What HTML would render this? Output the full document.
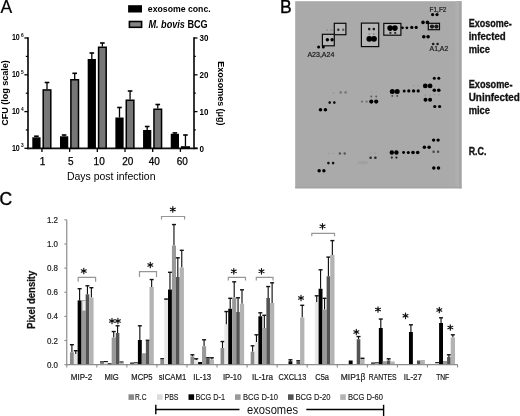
<!DOCTYPE html>
<html><head><meta charset="utf-8"><title>Figure</title>
<style>
html,body{margin:0;padding:0;background:#fff;}
body{width:520px;height:416px;overflow:hidden;font-family:"Liberation Sans", sans-serif;}
svg{display:block;will-change:transform;filter:blur(0.3px);}
svg text{font-family:"Liberation Sans", sans-serif;}
</style></head><body>
<svg width="520" height="416" viewBox="0 0 520 416">
<defs><filter id="bl" x="-50%" y="-50%" width="200%" height="200%"><feGaussianBlur stdDeviation="0.5"/></filter></defs>
<rect x="0" y="0" width="520" height="416" fill="#fff"/>
<text x="0.4" y="12.5" font-size="17.5" font-weight="normal" font-style="normal" text-anchor="start" fill="#000" stroke="#000" stroke-width="0.2">A</text>
<rect x="128.10" y="5.20" width="13.90" height="7.30" fill="#000" />
<text x="147.8" y="11.9" font-size="9.8" font-weight="bold" font-style="normal" text-anchor="start" fill="#000" textLength="62.9" lengthAdjust="spacingAndGlyphs" >exosome conc.</text>
<rect x="129.40" y="21.50" width="12.20" height="5.80" fill="#858585" stroke="#000" stroke-width="1.6" />
<text x="148.4" y="27.7" font-size="10" font-weight="bold" textLength="59.3" lengthAdjust="spacingAndGlyphs"><tspan font-style="italic">M. bovis</tspan> BCG</text>
<line x1="28.0" y1="37.2" x2="28.0" y2="149.20000000000002" stroke="#111" stroke-width="1.7" />
<line x1="194.0" y1="37.2" x2="194.0" y2="149.20000000000002" stroke="#111" stroke-width="1.7" />
<line x1="27.1" y1="148.3" x2="197.6" y2="148.3" stroke="#111" stroke-width="1.7" />
<line x1="24.4" y1="38.0" x2="28.0" y2="38.0" stroke="#000" stroke-width="1.3" />
<line x1="194.0" y1="38.0" x2="197.5" y2="38.0" stroke="#000" stroke-width="1.3" />
<line x1="24.4" y1="74.8" x2="28.0" y2="74.8" stroke="#000" stroke-width="1.3" />
<line x1="194.0" y1="74.8" x2="197.5" y2="74.8" stroke="#000" stroke-width="1.3" />
<line x1="24.4" y1="111.6" x2="28.0" y2="111.6" stroke="#000" stroke-width="1.3" />
<line x1="194.0" y1="111.6" x2="197.5" y2="111.6" stroke="#000" stroke-width="1.3" />
<line x1="24.4" y1="148.3" x2="28.0" y2="148.3" stroke="#000" stroke-width="1.3" />
<line x1="194.0" y1="148.3" x2="197.5" y2="148.3" stroke="#000" stroke-width="1.3" />
<line x1="25.8" y1="56.4" x2="28.0" y2="56.4" stroke="#000" stroke-width="1.2" />
<line x1="194.0" y1="56.4" x2="195.8" y2="56.4" stroke="#000" stroke-width="1.2" />
<line x1="25.8" y1="93.19999999999999" x2="28.0" y2="93.19999999999999" stroke="#000" stroke-width="1.2" />
<line x1="194.0" y1="93.19999999999999" x2="195.8" y2="93.19999999999999" stroke="#000" stroke-width="1.2" />
<line x1="25.8" y1="129.95" x2="28.0" y2="129.95" stroke="#000" stroke-width="1.2" />
<line x1="194.0" y1="129.95" x2="195.8" y2="129.95" stroke="#000" stroke-width="1.2" />
<text x="19.8" y="40.4" font-size="8.7" font-weight="bold" font-style="normal" text-anchor="end" fill="#000" textLength="7.9" lengthAdjust="spacingAndGlyphs" >10</text>
<text x="20.9" y="37.1" font-size="4.8" font-weight="bold" font-style="normal" text-anchor="start" fill="#000" >6</text>
<text x="19.8" y="77.2" font-size="8.7" font-weight="bold" font-style="normal" text-anchor="end" fill="#000" textLength="7.9" lengthAdjust="spacingAndGlyphs" >10</text>
<text x="20.9" y="73.89999999999999" font-size="4.8" font-weight="bold" font-style="normal" text-anchor="start" fill="#000" >5</text>
<text x="19.8" y="114.0" font-size="8.7" font-weight="bold" font-style="normal" text-anchor="end" fill="#000" textLength="7.9" lengthAdjust="spacingAndGlyphs" >10</text>
<text x="20.9" y="110.69999999999999" font-size="4.8" font-weight="bold" font-style="normal" text-anchor="start" fill="#000" >4</text>
<text x="19.8" y="150.70000000000002" font-size="8.7" font-weight="bold" font-style="normal" text-anchor="end" fill="#000" textLength="7.9" lengthAdjust="spacingAndGlyphs" >10</text>
<text x="20.9" y="147.4" font-size="4.8" font-weight="bold" font-style="normal" text-anchor="start" fill="#000" >3</text>
<text x="199.5" y="41.3" font-size="9.0" font-weight="bold" font-style="normal" text-anchor="start" fill="#000" textLength="8.9" lengthAdjust="spacingAndGlyphs" >30</text>
<text x="199.5" y="78.1" font-size="9.0" font-weight="bold" font-style="normal" text-anchor="start" fill="#000" textLength="8.9" lengthAdjust="spacingAndGlyphs" >20</text>
<text x="199.5" y="114.89999999999999" font-size="9.0" font-weight="bold" font-style="normal" text-anchor="start" fill="#000" textLength="8.9" lengthAdjust="spacingAndGlyphs" >10</text>
<text x="199.5" y="151.60000000000002" font-size="9.0" font-weight="bold" font-style="normal" text-anchor="start" fill="#000" textLength="4.5" lengthAdjust="spacingAndGlyphs" >0</text>
<line x1="41.95" y1="148.3" x2="41.95" y2="151.9" stroke="#000" stroke-width="1.3" />
<text x="42.45" y="164.6" font-size="10" font-weight="normal" font-style="normal" text-anchor="middle" fill="#000" stroke="#000" stroke-width="0.25">1</text>
<line x1="69.64" y1="148.3" x2="69.64" y2="151.9" stroke="#000" stroke-width="1.3" />
<text x="70.75" y="164.6" font-size="10" font-weight="normal" font-style="normal" text-anchor="middle" fill="#000" stroke="#000" stroke-width="0.25">5</text>
<line x1="97.33000000000001" y1="148.3" x2="97.33000000000001" y2="151.9" stroke="#000" stroke-width="1.3" />
<text x="99.15" y="164.6" font-size="10" font-weight="normal" font-style="normal" text-anchor="middle" fill="#000" stroke="#000" stroke-width="0.25">10</text>
<line x1="125.02000000000001" y1="148.3" x2="125.02000000000001" y2="151.9" stroke="#000" stroke-width="1.3" />
<text x="127.7" y="164.6" font-size="10" font-weight="normal" font-style="normal" text-anchor="middle" fill="#000" stroke="#000" stroke-width="0.25">20</text>
<line x1="152.71" y1="148.3" x2="152.71" y2="151.9" stroke="#000" stroke-width="1.3" />
<text x="154.3" y="164.6" font-size="10" font-weight="normal" font-style="normal" text-anchor="middle" fill="#000" stroke="#000" stroke-width="0.25">40</text>
<line x1="180.40000000000003" y1="148.3" x2="180.40000000000003" y2="151.9" stroke="#000" stroke-width="1.3" />
<text x="182.3" y="164.6" font-size="10" font-weight="normal" font-style="normal" text-anchor="middle" fill="#000" stroke="#000" stroke-width="0.25">60</text>
<text x="66.9" y="179.8" font-size="10.9" font-weight="normal" font-style="normal" text-anchor="start" fill="#000" textLength="88.6" lengthAdjust="spacingAndGlyphs" >Days post infection</text>
<text transform="translate(8.0,93.0) rotate(-90)" x="0" y="0" font-size="8.6" font-weight="bold" text-anchor="middle" textLength="65.6" lengthAdjust="spacingAndGlyphs">CFU (log scale)</text>
<text transform="translate(217.9,93.4) rotate(90)" x="0" y="0" font-size="8.8" font-weight="bold" text-anchor="middle" textLength="64.3" lengthAdjust="spacingAndGlyphs">Exosomes (&#956;g)</text>
<line x1="36.425000000000004" y1="137.3" x2="36.425000000000004" y2="136.2" stroke="#000" stroke-width="1.3" />
<line x1="34.12500000000001" y1="136.2" x2="38.725" y2="136.2" stroke="#000" stroke-width="1.6" />
<line x1="47.0" y1="89.2" x2="47.0" y2="82.5" stroke="#000" stroke-width="1.3" />
<line x1="44.7" y1="82.5" x2="49.3" y2="82.5" stroke="#000" stroke-width="1.6" />
<rect x="32.30" y="137.30" width="8.25" height="11.00" fill="#000" />
<rect x="43.20" y="89.95" width="7.60" height="58.35" fill="#777777" stroke="#000" stroke-width="1.5" />
<line x1="64.115" y1="136.3" x2="64.115" y2="135.0" stroke="#000" stroke-width="1.3" />
<line x1="61.815" y1="135.0" x2="66.41499999999999" y2="135.0" stroke="#000" stroke-width="1.6" />
<line x1="74.69" y1="79.0" x2="74.69" y2="73.3" stroke="#000" stroke-width="1.3" />
<line x1="72.39" y1="73.3" x2="76.99" y2="73.3" stroke="#000" stroke-width="1.6" />
<rect x="59.99" y="136.30" width="8.25" height="12.00" fill="#000" />
<rect x="70.89" y="79.75" width="7.60" height="68.55" fill="#777777" stroke="#000" stroke-width="1.5" />
<line x1="91.805" y1="59.0" x2="91.805" y2="53.0" stroke="#000" stroke-width="1.3" />
<line x1="89.50500000000001" y1="53.0" x2="94.105" y2="53.0" stroke="#000" stroke-width="1.6" />
<line x1="102.38000000000001" y1="46.5" x2="102.38000000000001" y2="43.0" stroke="#000" stroke-width="1.3" />
<line x1="100.08000000000001" y1="43.0" x2="104.68" y2="43.0" stroke="#000" stroke-width="1.6" />
<rect x="87.68" y="59.00" width="8.25" height="89.30" fill="#000" />
<rect x="98.58" y="47.25" width="7.60" height="101.05" fill="#777777" stroke="#000" stroke-width="1.5" />
<line x1="119.495" y1="117.5" x2="119.495" y2="107.5" stroke="#000" stroke-width="1.3" />
<line x1="117.19500000000001" y1="107.5" x2="121.795" y2="107.5" stroke="#000" stroke-width="1.6" />
<line x1="130.07" y1="99.5" x2="130.07" y2="91.0" stroke="#000" stroke-width="1.3" />
<line x1="127.77" y1="91.0" x2="132.37" y2="91.0" stroke="#000" stroke-width="1.6" />
<rect x="115.37" y="117.50" width="8.25" height="30.80" fill="#000" />
<rect x="126.27" y="100.25" width="7.60" height="48.05" fill="#777777" stroke="#000" stroke-width="1.5" />
<line x1="147.185" y1="130.0" x2="147.185" y2="126.5" stroke="#000" stroke-width="1.3" />
<line x1="144.885" y1="126.5" x2="149.485" y2="126.5" stroke="#000" stroke-width="1.6" />
<line x1="157.76" y1="108.5" x2="157.76" y2="104.5" stroke="#000" stroke-width="1.3" />
<line x1="155.45999999999998" y1="104.5" x2="160.06" y2="104.5" stroke="#000" stroke-width="1.6" />
<rect x="143.06" y="130.00" width="8.25" height="18.30" fill="#000" />
<rect x="153.96" y="109.25" width="7.60" height="39.05" fill="#777777" stroke="#000" stroke-width="1.5" />
<line x1="174.87500000000003" y1="133.8" x2="174.87500000000003" y2="132.9" stroke="#000" stroke-width="1.3" />
<line x1="172.57500000000002" y1="132.9" x2="177.17500000000004" y2="132.9" stroke="#000" stroke-width="1.6" />
<line x1="185.45000000000005" y1="146.2" x2="185.45000000000005" y2="135.0" stroke="#000" stroke-width="1.3" />
<line x1="183.15000000000003" y1="135.0" x2="187.75000000000006" y2="135.0" stroke="#000" stroke-width="1.6" />
<rect x="170.75" y="133.80" width="8.25" height="14.50" fill="#000" />
<rect x="181.65" y="146.95" width="7.60" height="1.35" fill="#777777" stroke="#000" stroke-width="1.5" />
<text x="279.9" y="12.7" font-size="17.5" font-weight="normal" font-style="normal" text-anchor="start" fill="#000" stroke="#000" stroke-width="0.35">B</text>
<rect x="295.20" y="1.20" width="166.30" height="187.10" fill="#aaaaaa" />
<rect x="295.20" y="186.80" width="166.30" height="1.50" fill="#a2a2a2" />
<rect x="455.50" y="1.20" width="3.80" height="185.60" fill="#afafaf" />
<rect x="459.30" y="1.20" width="2.20" height="187.10" fill="#a4a4a4" />
<rect x="334.30" y="23.30" width="11.60" height="11.40" fill="#b6b6b6" stroke="#0a0a0a" stroke-width="1.2" />
<rect x="322.40" y="34.30" width="11.90" height="11.50" fill="#b6b6b6" stroke="#0a0a0a" stroke-width="1.2" />
<rect x="361.40" y="23.10" width="17.30" height="23.50" fill="#b6b6b6" stroke="#0a0a0a" stroke-width="1.2" />
<rect x="383.80" y="23.40" width="17.10" height="11.80" fill="#b6b6b6" stroke="#0a0a0a" stroke-width="1.2" />
<rect x="428.30" y="23.30" width="11.20" height="6.40" fill="#b6b6b6" stroke="#0a0a0a" stroke-width="1.2" />
<circle cx="318.6" cy="47.1" r="1.5" fill="#000" opacity="1.0" filter="url(#bl)"/>
<circle cx="323.3" cy="47.1" r="1.5" fill="#000" opacity="1.0" filter="url(#bl)"/>
<circle cx="327.4" cy="39.7" r="1.7" fill="#000" opacity="1.0" filter="url(#bl)"/>
<circle cx="332.09999999999997" cy="39.7" r="1.7" fill="#000" opacity="1.0" filter="url(#bl)"/>
<circle cx="338.3" cy="29.8" r="1.2" fill="#2a2a2a" opacity="1" filter="url(#bl)"/>
<circle cx="343.2" cy="29.8" r="1.2" fill="#5a5a5a" opacity="1" filter="url(#bl)"/>
<circle cx="327.0" cy="30.1" r="1.1" fill="#959595" opacity="1.0" filter="url(#bl)"/>
<circle cx="331.3" cy="30.1" r="1.1" fill="#959595" opacity="1.0" filter="url(#bl)"/>
<circle cx="369.2" cy="29.1" r="1.3" fill="#151515" opacity="1.0" filter="url(#bl)"/>
<circle cx="373.8" cy="29.1" r="1.3" fill="#151515" opacity="1.0" filter="url(#bl)"/>
<circle cx="369.2" cy="34.0" r="1.0" fill="#8f8f8f" opacity="1.0" filter="url(#bl)"/>
<circle cx="373.8" cy="34.0" r="1.0" fill="#8f8f8f" opacity="1.0" filter="url(#bl)"/>
<circle cx="369.3" cy="38.8" r="2.9" fill="#000" opacity="1.0" filter="url(#bl)"/>
<circle cx="374.0" cy="38.8" r="2.9" fill="#000" opacity="1.0" filter="url(#bl)"/>
<circle cx="390.1" cy="28.1" r="2.8" fill="#000" opacity="1.0" filter="url(#bl)"/>
<circle cx="394.90000000000003" cy="28.1" r="2.8" fill="#000" opacity="1.0" filter="url(#bl)"/>
<circle cx="390.4" cy="32.9" r="1.1" fill="#2a2a2a" opacity="1.0" filter="url(#bl)"/>
<circle cx="395.2" cy="32.9" r="1.1" fill="#2a2a2a" opacity="1.0" filter="url(#bl)"/>
<circle cx="411.8" cy="27.4" r="1.6" fill="#000" opacity="1.0" filter="url(#bl)"/>
<circle cx="416.2" cy="27.4" r="1.6" fill="#000" opacity="1.0" filter="url(#bl)"/>
<circle cx="402.4" cy="27.8" r="1.4" fill="#000" opacity="1" filter="url(#bl)"/>
<circle cx="406.9" cy="27.8" r="1.4" fill="#000" opacity="1" filter="url(#bl)"/>
<circle cx="423.0" cy="22.4" r="1.8" fill="#000" opacity="1.0" filter="url(#bl)"/>
<circle cx="427.4" cy="22.4" r="1.8" fill="#000" opacity="1.0" filter="url(#bl)"/>
<circle cx="432.0" cy="26.6" r="2.1" fill="#1a1a1a" opacity="1.0" filter="url(#bl)"/>
<circle cx="436.4" cy="26.6" r="2.1" fill="#1a1a1a" opacity="1.0" filter="url(#bl)"/>
<circle cx="432.6" cy="14.6" r="1.6" fill="#000" opacity="1.0" filter="url(#bl)"/>
<circle cx="437.0" cy="14.6" r="1.6" fill="#000" opacity="1.0" filter="url(#bl)"/>
<circle cx="423.8" cy="36.8" r="1.8" fill="#000" opacity="1.0" filter="url(#bl)"/>
<circle cx="428.1" cy="36.8" r="1.8" fill="#000" opacity="1.0" filter="url(#bl)"/>
<circle cx="433.2" cy="44.0" r="1.3" fill="#1a1a1a" opacity="1.0" filter="url(#bl)"/>
<circle cx="437.59999999999997" cy="44.0" r="1.3" fill="#1a1a1a" opacity="1.0" filter="url(#bl)"/>
<circle cx="340.75" cy="92.4" r="1.3" fill="#7a7a7a" opacity="1.0" filter="url(#bl)"/>
<circle cx="345.6" cy="92.4" r="1.3" fill="#7a7a7a" opacity="1.0" filter="url(#bl)"/>
<circle cx="333.5" cy="93.0" r="1.0" fill="#9a9a9a" opacity="1" filter="url(#bl)"/>
<circle cx="329.7" cy="102.6" r="1.3" fill="#0a0a0a" opacity="1.0" filter="url(#bl)"/>
<circle cx="334.3" cy="102.6" r="1.3" fill="#0a0a0a" opacity="1.0" filter="url(#bl)"/>
<circle cx="320.45" cy="109.7" r="1.8" fill="#000" opacity="1.0" filter="url(#bl)"/>
<circle cx="325.4" cy="109.7" r="1.8" fill="#000" opacity="1.0" filter="url(#bl)"/>
<circle cx="362.0" cy="101.6" r="1.2" fill="#777" opacity="1.0" filter="url(#bl)"/>
<circle cx="366.6" cy="101.6" r="1.2" fill="#777" opacity="1.0" filter="url(#bl)"/>
<circle cx="371.3" cy="101.6" r="2.1" fill="#000" opacity="1.0" filter="url(#bl)"/>
<circle cx="376.2" cy="101.6" r="2.1" fill="#000" opacity="1.0" filter="url(#bl)"/>
<circle cx="371.3" cy="96.5" r="0.9" fill="#555" opacity="1.0" filter="url(#bl)"/>
<circle cx="376.2" cy="96.5" r="0.9" fill="#555" opacity="1.0" filter="url(#bl)"/>
<circle cx="371.3" cy="92.0" r="0.8" fill="#9c9c9c" opacity="1.0" filter="url(#bl)"/>
<circle cx="376.2" cy="92.0" r="0.8" fill="#9c9c9c" opacity="1.0" filter="url(#bl)"/>
<circle cx="392.3" cy="91.5" r="2.5" fill="#000" opacity="1.0" filter="url(#bl)"/>
<circle cx="397.2" cy="91.5" r="2.5" fill="#000" opacity="1.0" filter="url(#bl)"/>
<circle cx="392.3" cy="95.9" r="0.95" fill="#444" opacity="1.0" filter="url(#bl)"/>
<circle cx="397.2" cy="95.9" r="0.95" fill="#444" opacity="1.0" filter="url(#bl)"/>
<circle cx="404.2" cy="90.9" r="1.5" fill="#000" opacity="1" filter="url(#bl)"/>
<circle cx="408.8" cy="90.9" r="1.6" fill="#000" opacity="1" filter="url(#bl)"/>
<circle cx="413.6" cy="90.9" r="1.7" fill="#000" opacity="1" filter="url(#bl)"/>
<circle cx="418.2" cy="90.9" r="1.6" fill="#000" opacity="1" filter="url(#bl)"/>
<circle cx="413.6" cy="85.6" r="0.85" fill="#999" opacity="1.0" filter="url(#bl)"/>
<circle cx="418.20000000000005" cy="85.6" r="0.85" fill="#999" opacity="1.0" filter="url(#bl)"/>
<circle cx="425.3" cy="85.9" r="2.4" fill="#000" opacity="1.0" filter="url(#bl)"/>
<circle cx="430.1" cy="85.9" r="2.4" fill="#000" opacity="1.0" filter="url(#bl)"/>
<circle cx="425.3" cy="95.5" r="0.9" fill="#999" opacity="1.0" filter="url(#bl)"/>
<circle cx="430.1" cy="95.5" r="0.9" fill="#999" opacity="1.0" filter="url(#bl)"/>
<circle cx="425.5" cy="99.8" r="2.0" fill="#000" opacity="1.0" filter="url(#bl)"/>
<circle cx="430.1" cy="99.8" r="2.0" fill="#000" opacity="1.0" filter="url(#bl)"/>
<circle cx="434.3" cy="78.2" r="1.5" fill="#000" opacity="1.0" filter="url(#bl)"/>
<circle cx="438.8" cy="78.2" r="1.5" fill="#000" opacity="1.0" filter="url(#bl)"/>
<circle cx="434.3" cy="90.3" r="1.8" fill="#000" opacity="1.0" filter="url(#bl)"/>
<circle cx="438.8" cy="90.3" r="1.8" fill="#000" opacity="1.0" filter="url(#bl)"/>
<circle cx="434.4" cy="94.6" r="0.9" fill="#999" opacity="1.0" filter="url(#bl)"/>
<circle cx="438.9" cy="94.6" r="0.9" fill="#999" opacity="1.0" filter="url(#bl)"/>
<circle cx="434.8" cy="106.5" r="1.6" fill="#000" opacity="1.0" filter="url(#bl)"/>
<circle cx="439.6" cy="106.5" r="1.6" fill="#000" opacity="1.0" filter="url(#bl)"/>
<circle cx="339.9" cy="153.5" r="1.25" fill="#555" opacity="1.0" filter="url(#bl)"/>
<circle cx="344.7" cy="153.5" r="1.25" fill="#555" opacity="1.0" filter="url(#bl)"/>
<circle cx="328.8" cy="153.5" r="1.0" fill="#a0a0a0" opacity="1.0" filter="url(#bl)"/>
<circle cx="333.5" cy="153.5" r="1.0" fill="#a0a0a0" opacity="1.0" filter="url(#bl)"/>
<circle cx="328.4" cy="163.1" r="1.3" fill="#111" opacity="1.0" filter="url(#bl)"/>
<circle cx="333.09999999999997" cy="163.1" r="1.3" fill="#111" opacity="1.0" filter="url(#bl)"/>
<circle cx="319.15" cy="170.7" r="1.7" fill="#000" opacity="1.0" filter="url(#bl)"/>
<circle cx="323.9" cy="170.7" r="1.7" fill="#000" opacity="1.0" filter="url(#bl)"/>
<circle cx="370.6" cy="157.7" r="1.3" fill="#2a2a2a" opacity="1.0" filter="url(#bl)"/>
<circle cx="375.40000000000003" cy="157.7" r="1.3" fill="#2a2a2a" opacity="1.0" filter="url(#bl)"/>
<circle cx="370.6" cy="153.2" r="1.0" fill="#a0a0a0" opacity="1.0" filter="url(#bl)"/>
<circle cx="375.3" cy="153.2" r="1.0" fill="#a0a0a0" opacity="1.0" filter="url(#bl)"/>
<circle cx="391.8" cy="152.5" r="2.2" fill="#000" opacity="1.0" filter="url(#bl)"/>
<circle cx="396.40000000000003" cy="152.5" r="2.2" fill="#000" opacity="1.0" filter="url(#bl)"/>
<circle cx="391.8" cy="157.6" r="1.1" fill="#222" opacity="1.0" filter="url(#bl)"/>
<circle cx="396.40000000000003" cy="157.6" r="1.1" fill="#222" opacity="1.0" filter="url(#bl)"/>
<circle cx="403.6" cy="152.5" r="1.45" fill="#000" opacity="1" filter="url(#bl)"/>
<circle cx="408.3" cy="152.5" r="1.55" fill="#000" opacity="1" filter="url(#bl)"/>
<circle cx="413.0" cy="152.5" r="1.8" fill="#000" opacity="1" filter="url(#bl)"/>
<circle cx="417.7" cy="152.5" r="1.8" fill="#000" opacity="1" filter="url(#bl)"/>
<circle cx="424.4" cy="147.2" r="1.75" fill="#000" opacity="1.0" filter="url(#bl)"/>
<circle cx="429.09999999999997" cy="147.2" r="1.75" fill="#000" opacity="1.0" filter="url(#bl)"/>
<circle cx="433.6" cy="140.1" r="1.7" fill="#000" opacity="1.0" filter="url(#bl)"/>
<circle cx="438.1" cy="140.1" r="1.7" fill="#000" opacity="1.0" filter="url(#bl)"/>
<circle cx="433.6" cy="151.8" r="1.2" fill="#444" opacity="1.0" filter="url(#bl)"/>
<circle cx="438.1" cy="151.8" r="1.2" fill="#444" opacity="1.0" filter="url(#bl)"/>
<circle cx="433.8" cy="168.0" r="1.75" fill="#000" opacity="1.0" filter="url(#bl)"/>
<circle cx="438.5" cy="168.0" r="1.75" fill="#000" opacity="1.0" filter="url(#bl)"/>
<ellipse cx="363" cy="162.6" rx="5.5" ry="1.8" fill="#a0a0a0" filter="url(#bl)"/>
<text x="307.4" y="57.1" font-size="6.6" font-weight="normal" font-style="normal" text-anchor="start" fill="#1a1a1a" textLength="27.0" lengthAdjust="spacingAndGlyphs" stroke="#1a1a1a" stroke-width="0.2">A23,A24</text>
<text x="429.6" y="12.2" font-size="6.5" font-weight="normal" font-style="normal" text-anchor="start" fill="#1a1a1a" textLength="16.8" lengthAdjust="spacingAndGlyphs" stroke="#1a1a1a" stroke-width="0.2">F1,F2</text>
<text x="429.6" y="50.9" font-size="6.5" font-weight="normal" font-style="normal" text-anchor="start" fill="#1a1a1a" textLength="18.6" lengthAdjust="spacingAndGlyphs" stroke="#1a1a1a" stroke-width="0.2">A1,A2</text>
<text x="468.7" y="27.0" font-size="10" font-weight="bold" font-style="normal" text-anchor="start" fill="#111" textLength="43.0" lengthAdjust="spacingAndGlyphs" stroke="#111" stroke-width="0.3">Exosome-</text>
<text x="468.7" y="39.8" font-size="10" font-weight="bold" font-style="normal" text-anchor="start" fill="#111" textLength="37.0" lengthAdjust="spacingAndGlyphs" stroke="#111" stroke-width="0.3">infected</text>
<text x="468.7" y="53.0" font-size="10" font-weight="bold" font-style="normal" text-anchor="start" fill="#111" textLength="21.3" lengthAdjust="spacingAndGlyphs" stroke="#111" stroke-width="0.3">mice</text>
<text x="468.7" y="88.0" font-size="10" font-weight="bold" font-style="normal" text-anchor="start" fill="#111" textLength="43.8" lengthAdjust="spacingAndGlyphs" stroke="#111" stroke-width="0.3">Exosome-</text>
<text x="468.7" y="101.1" font-size="10" font-weight="bold" font-style="normal" text-anchor="start" fill="#111" textLength="51.2" lengthAdjust="spacingAndGlyphs" stroke="#111" stroke-width="0.3">Uninfected</text>
<text x="468.7" y="114.0" font-size="10" font-weight="bold" font-style="normal" text-anchor="start" fill="#111" textLength="21.3" lengthAdjust="spacingAndGlyphs" stroke="#111" stroke-width="0.3">mice</text>
<text x="468.7" y="155.2" font-size="10" font-weight="bold" font-style="normal" text-anchor="start" fill="#111" textLength="17.8" lengthAdjust="spacingAndGlyphs" stroke="#111" stroke-width="0.3">R.C.</text>
<text x="-0.6" y="205.4" font-size="17.5" font-weight="normal" font-style="normal" text-anchor="start" fill="#000" stroke="#000" stroke-width="0.35">C</text>
<line x1="66.75" y1="220.0" x2="66.75" y2="365.2" stroke="#8c8c8c" stroke-width="1.2" />
<line x1="66.75" y1="364.7" x2="457.8" y2="364.7" stroke="#8c8c8c" stroke-width="1.2" />
<line x1="64.35" y1="364.7" x2="66.75" y2="364.7" stroke="#8c8c8c" stroke-width="1.1" />
<text x="58.0" y="367.7" font-size="8.4" font-weight="normal" font-style="normal" text-anchor="end" fill="#222" textLength="11.1" lengthAdjust="spacingAndGlyphs" stroke="#222" stroke-width="0.2">0.0</text>
<line x1="64.35" y1="340.55" x2="66.75" y2="340.55" stroke="#8c8c8c" stroke-width="1.1" />
<text x="58.0" y="343.55" font-size="8.4" font-weight="normal" font-style="normal" text-anchor="end" fill="#222" textLength="11.1" lengthAdjust="spacingAndGlyphs" stroke="#222" stroke-width="0.2">0.2</text>
<line x1="64.35" y1="316.4" x2="66.75" y2="316.4" stroke="#8c8c8c" stroke-width="1.1" />
<text x="58.0" y="319.4" font-size="8.4" font-weight="normal" font-style="normal" text-anchor="end" fill="#222" textLength="11.1" lengthAdjust="spacingAndGlyphs" stroke="#222" stroke-width="0.2">0.4</text>
<line x1="64.35" y1="292.25" x2="66.75" y2="292.25" stroke="#8c8c8c" stroke-width="1.1" />
<text x="58.0" y="295.25" font-size="8.4" font-weight="normal" font-style="normal" text-anchor="end" fill="#222" textLength="11.1" lengthAdjust="spacingAndGlyphs" stroke="#222" stroke-width="0.2">0.6</text>
<line x1="64.35" y1="268.1" x2="66.75" y2="268.1" stroke="#8c8c8c" stroke-width="1.1" />
<text x="58.0" y="271.1" font-size="8.4" font-weight="normal" font-style="normal" text-anchor="end" fill="#222" textLength="11.1" lengthAdjust="spacingAndGlyphs" stroke="#222" stroke-width="0.2">0.8</text>
<line x1="64.35" y1="243.95" x2="66.75" y2="243.95" stroke="#8c8c8c" stroke-width="1.1" />
<text x="58.0" y="246.95" font-size="8.4" font-weight="normal" font-style="normal" text-anchor="end" fill="#222" textLength="11.1" lengthAdjust="spacingAndGlyphs" stroke="#222" stroke-width="0.2">1.0</text>
<line x1="64.35" y1="219.8" x2="66.75" y2="219.8" stroke="#8c8c8c" stroke-width="1.1" />
<text x="58.0" y="222.8" font-size="8.4" font-weight="normal" font-style="normal" text-anchor="end" fill="#222" textLength="11.1" lengthAdjust="spacingAndGlyphs" stroke="#222" stroke-width="0.2">1.2</text>
<line x1="66.75" y1="364.7" x2="66.75" y2="367.5" stroke="#8c8c8c" stroke-width="1.1" />
<line x1="96.81" y1="364.7" x2="96.81" y2="367.5" stroke="#8c8c8c" stroke-width="1.1" />
<line x1="126.87" y1="364.7" x2="126.87" y2="367.5" stroke="#8c8c8c" stroke-width="1.1" />
<line x1="156.93" y1="364.7" x2="156.93" y2="367.5" stroke="#8c8c8c" stroke-width="1.1" />
<line x1="186.99" y1="364.7" x2="186.99" y2="367.5" stroke="#8c8c8c" stroke-width="1.1" />
<line x1="217.04999999999998" y1="364.7" x2="217.04999999999998" y2="367.5" stroke="#8c8c8c" stroke-width="1.1" />
<line x1="247.10999999999999" y1="364.7" x2="247.10999999999999" y2="367.5" stroke="#8c8c8c" stroke-width="1.1" />
<line x1="277.16999999999996" y1="364.7" x2="277.16999999999996" y2="367.5" stroke="#8c8c8c" stroke-width="1.1" />
<line x1="307.23" y1="364.7" x2="307.23" y2="367.5" stroke="#8c8c8c" stroke-width="1.1" />
<line x1="337.28999999999996" y1="364.7" x2="337.28999999999996" y2="367.5" stroke="#8c8c8c" stroke-width="1.1" />
<line x1="367.34999999999997" y1="364.7" x2="367.34999999999997" y2="367.5" stroke="#8c8c8c" stroke-width="1.1" />
<line x1="397.40999999999997" y1="364.7" x2="397.40999999999997" y2="367.5" stroke="#8c8c8c" stroke-width="1.1" />
<line x1="427.46999999999997" y1="364.7" x2="427.46999999999997" y2="367.5" stroke="#8c8c8c" stroke-width="1.1" />
<line x1="457.53" y1="364.7" x2="457.53" y2="367.5" stroke="#8c8c8c" stroke-width="1.1" />
<text x="70.8" y="380.0" font-size="8.4" font-weight="normal" font-style="normal" text-anchor="start" fill="#1a1a1a" textLength="21.5" lengthAdjust="spacingAndGlyphs" stroke="#1a1a1a" stroke-width="0.2">MIP-2</text>
<text x="104.4" y="380.0" font-size="8.4" font-weight="normal" font-style="normal" text-anchor="start" fill="#1a1a1a" textLength="14.4" lengthAdjust="spacingAndGlyphs" stroke="#1a1a1a" stroke-width="0.2">MIG</text>
<text x="131.3" y="380.0" font-size="8.4" font-weight="normal" font-style="normal" text-anchor="start" fill="#1a1a1a" textLength="21.2" lengthAdjust="spacingAndGlyphs" stroke="#1a1a1a" stroke-width="0.2">MCP5</text>
<text x="158.7" y="380.0" font-size="8.4" font-weight="normal" font-style="normal" text-anchor="start" fill="#1a1a1a" textLength="27.5" lengthAdjust="spacingAndGlyphs" stroke="#1a1a1a" stroke-width="0.2">sICAM1</text>
<text x="193.3" y="380.0" font-size="8.4" font-weight="normal" font-style="normal" text-anchor="start" fill="#1a1a1a" textLength="17.9" lengthAdjust="spacingAndGlyphs" stroke="#1a1a1a" stroke-width="0.2">IL-13</text>
<text x="222.9" y="380.0" font-size="8.4" font-weight="normal" font-style="normal" text-anchor="start" fill="#1a1a1a" textLength="18.6" lengthAdjust="spacingAndGlyphs" stroke="#1a1a1a" stroke-width="0.2">IP-10</text>
<text x="251.9" y="380.0" font-size="8.4" font-weight="normal" font-style="normal" text-anchor="start" fill="#1a1a1a" textLength="21.2" lengthAdjust="spacingAndGlyphs" stroke="#1a1a1a" stroke-width="0.2">IL-1ra</text>
<text x="278.5" y="380.0" font-size="8.4" font-weight="normal" font-style="normal" text-anchor="start" fill="#1a1a1a" textLength="27.8" lengthAdjust="spacingAndGlyphs" stroke="#1a1a1a" stroke-width="0.2">CXCL13</text>
<text x="315.3" y="380.0" font-size="8.4" font-weight="normal" font-style="normal" text-anchor="start" fill="#1a1a1a" textLength="13.7" lengthAdjust="spacingAndGlyphs" stroke="#1a1a1a" stroke-width="0.2">C5a</text>
<text x="340.8" y="380.0" font-size="8.4" font-weight="normal" font-style="normal" text-anchor="start" fill="#1a1a1a" textLength="24.6" lengthAdjust="spacingAndGlyphs" stroke="#1a1a1a" stroke-width="0.2">MIP1&#946;</text>
<text x="368.8" y="380.0" font-size="8.4" font-weight="normal" font-style="normal" text-anchor="start" fill="#1a1a1a" textLength="27.7" lengthAdjust="spacingAndGlyphs" stroke="#1a1a1a" stroke-width="0.2">RANTES</text>
<text x="403.8" y="380.0" font-size="8.4" font-weight="normal" font-style="normal" text-anchor="start" fill="#1a1a1a" textLength="18.2" lengthAdjust="spacingAndGlyphs" stroke="#1a1a1a" stroke-width="0.2">IL-27</text>
<text x="436.2" y="380.0" font-size="8.4" font-weight="normal" font-style="normal" text-anchor="start" fill="#1a1a1a" textLength="13.0" lengthAdjust="spacingAndGlyphs" stroke="#1a1a1a" stroke-width="0.2">TNF</text>
<text transform="translate(35.2,299.8) rotate(-90)" x="0" y="0" font-size="10" font-weight="bold" text-anchor="middle" textLength="58.2" lengthAdjust="spacingAndGlyphs" fill="#111" stroke="#111" stroke-width="0.25">Pixel density</text>
<line x1="71.9" y1="352.3" x2="71.9" y2="344.7" stroke="#111" stroke-width="1.15" />
<line x1="69.9" y1="344.7" x2="73.9" y2="344.7" stroke="#111" stroke-width="1.4" />
<rect x="69.95" y="352.30" width="3.90" height="11.80" fill="#8a8a8a" />
<line x1="75.75" y1="354" x2="75.75" y2="350.7" stroke="#111" stroke-width="1.15" />
<line x1="73.75" y1="350.7" x2="77.75" y2="350.7" stroke="#111" stroke-width="1.4" />
<rect x="73.85" y="354.00" width="3.80" height="10.10" fill="#e7e7e7" />
<line x1="79.6" y1="300.4" x2="79.6" y2="288.7" stroke="#111" stroke-width="1.15" />
<line x1="77.6" y1="288.7" x2="81.6" y2="288.7" stroke="#111" stroke-width="1.4" />
<rect x="77.65" y="300.40" width="3.90" height="63.70" fill="#000000" />
<rect x="81.55" y="300.20" width="4.10" height="63.90" fill="#999999" />
<line x1="87.45" y1="294.3" x2="87.45" y2="285.8" stroke="#111" stroke-width="1.15" />
<line x1="85.45" y1="285.8" x2="89.45" y2="285.8" stroke="#111" stroke-width="1.4" />
<rect x="85.65" y="294.30" width="3.60" height="69.80" fill="#535353" />
<line x1="91.4" y1="297.5" x2="91.4" y2="287.7" stroke="#111" stroke-width="1.15" />
<line x1="89.4" y1="287.7" x2="93.4" y2="287.7" stroke="#111" stroke-width="1.4" />
<rect x="89.25" y="297.50" width="4.30" height="66.60" fill="#b3b3b3" />
<line x1="102.02000000000001" y1="362.4" x2="102.02000000000001" y2="362.0" stroke="#111" stroke-width="1.15" />
<line x1="100.02000000000001" y1="362.0" x2="104.02000000000001" y2="362.0" stroke="#111" stroke-width="1.4" />
<rect x="100.07" y="362.40" width="3.90" height="1.70" fill="#8a8a8a" />
<line x1="105.87" y1="362.2" x2="105.87" y2="361.7" stroke="#111" stroke-width="1.15" />
<line x1="103.87" y1="361.7" x2="107.87" y2="361.7" stroke="#111" stroke-width="1.4" />
<rect x="103.97" y="362.20" width="3.80" height="1.90" fill="#e7e7e7" />
<rect x="107.77" y="363.30" width="3.90" height="0.80" fill="#000000" />
<line x1="113.72" y1="337.5" x2="113.72" y2="331.55" stroke="#111" stroke-width="1.15" />
<line x1="111.72" y1="331.55" x2="115.72" y2="331.55" stroke="#111" stroke-width="1.4" />
<rect x="111.67" y="337.50" width="4.10" height="26.60" fill="#999999" />
<line x1="117.57000000000001" y1="333" x2="117.57000000000001" y2="325.8" stroke="#111" stroke-width="1.15" />
<line x1="115.57000000000001" y1="325.8" x2="119.57000000000001" y2="325.8" stroke="#111" stroke-width="1.4" />
<rect x="115.77" y="333.00" width="3.60" height="31.10" fill="#535353" />
<line x1="121.52000000000001" y1="362.5" x2="121.52000000000001" y2="362.1" stroke="#111" stroke-width="1.15" />
<line x1="119.52000000000001" y1="362.1" x2="123.52000000000001" y2="362.1" stroke="#111" stroke-width="1.4" />
<rect x="119.37" y="362.50" width="4.30" height="1.60" fill="#b3b3b3" />
<line x1="132.14" y1="363.6" x2="132.14" y2="363.2" stroke="#111" stroke-width="1.15" />
<line x1="130.14" y1="363.2" x2="134.14" y2="363.2" stroke="#111" stroke-width="1.4" />
<rect x="130.19" y="363.60" width="3.90" height="0.50" fill="#8a8a8a" />
<line x1="135.99" y1="363.4" x2="135.99" y2="363.0" stroke="#111" stroke-width="1.15" />
<line x1="133.99" y1="363.0" x2="137.99" y2="363.0" stroke="#111" stroke-width="1.4" />
<rect x="134.09" y="363.40" width="3.80" height="0.70" fill="#e7e7e7" />
<line x1="139.83999999999997" y1="340" x2="139.83999999999997" y2="325.8" stroke="#111" stroke-width="1.15" />
<line x1="137.83999999999997" y1="325.8" x2="141.83999999999997" y2="325.8" stroke="#111" stroke-width="1.4" />
<rect x="137.89" y="340.00" width="3.90" height="24.10" fill="#000000" />
<rect x="141.79" y="353.25" width="4.10" height="10.85" fill="#999999" />
<line x1="147.69" y1="340.75" x2="147.69" y2="340.3" stroke="#111" stroke-width="1.15" />
<line x1="145.69" y1="340.3" x2="149.69" y2="340.3" stroke="#111" stroke-width="1.4" />
<rect x="145.89" y="340.75" width="3.60" height="23.35" fill="#535353" />
<line x1="151.64" y1="287" x2="151.64" y2="279.55" stroke="#111" stroke-width="1.15" />
<line x1="149.64" y1="279.55" x2="153.64" y2="279.55" stroke="#111" stroke-width="1.4" />
<rect x="149.49" y="287.00" width="4.30" height="77.10" fill="#b3b3b3" />
<line x1="162.26" y1="359.5" x2="162.26" y2="358.8" stroke="#111" stroke-width="1.15" />
<line x1="160.26" y1="358.8" x2="164.26" y2="358.8" stroke="#111" stroke-width="1.4" />
<rect x="160.31" y="359.50" width="3.90" height="4.60" fill="#8a8a8a" />
<line x1="166.11" y1="300" x2="166.11" y2="299.05" stroke="#111" stroke-width="1.15" />
<line x1="164.11" y1="299.05" x2="168.11" y2="299.05" stroke="#111" stroke-width="1.4" />
<rect x="164.21" y="300.00" width="3.80" height="64.10" fill="#e7e7e7" />
<line x1="169.95999999999998" y1="289.5" x2="169.95999999999998" y2="272.3" stroke="#111" stroke-width="1.15" />
<line x1="167.95999999999998" y1="272.3" x2="171.95999999999998" y2="272.3" stroke="#111" stroke-width="1.4" />
<rect x="168.01" y="289.50" width="3.90" height="74.60" fill="#000000" />
<line x1="173.95999999999998" y1="245.5" x2="173.95999999999998" y2="224.55" stroke="#111" stroke-width="1.15" />
<line x1="171.95999999999998" y1="224.55" x2="175.95999999999998" y2="224.55" stroke="#111" stroke-width="1.4" />
<rect x="171.91" y="245.50" width="4.10" height="118.60" fill="#999999" />
<line x1="177.81" y1="277" x2="177.81" y2="257.8" stroke="#111" stroke-width="1.15" />
<line x1="175.81" y1="257.8" x2="179.81" y2="257.8" stroke="#111" stroke-width="1.4" />
<rect x="176.01" y="277.00" width="3.60" height="87.10" fill="#535353" />
<line x1="181.76" y1="267.5" x2="181.76" y2="250.3" stroke="#111" stroke-width="1.15" />
<line x1="179.76" y1="250.3" x2="183.76" y2="250.3" stroke="#111" stroke-width="1.4" />
<rect x="179.61" y="267.50" width="4.30" height="96.60" fill="#b3b3b3" />
<line x1="192.38" y1="356.5" x2="192.38" y2="354.8" stroke="#111" stroke-width="1.15" />
<line x1="190.38" y1="354.8" x2="194.38" y2="354.8" stroke="#111" stroke-width="1.4" />
<rect x="190.43" y="356.50" width="3.90" height="7.60" fill="#8a8a8a" />
<line x1="196.23000000000002" y1="360" x2="196.23000000000002" y2="358.8" stroke="#111" stroke-width="1.15" />
<line x1="194.23000000000002" y1="358.8" x2="198.23000000000002" y2="358.8" stroke="#111" stroke-width="1.4" />
<rect x="194.33" y="360.00" width="3.80" height="4.10" fill="#e7e7e7" />
<rect x="198.13" y="362.00" width="3.90" height="2.10" fill="#000000" />
<line x1="204.07999999999998" y1="346.25" x2="204.07999999999998" y2="339.8" stroke="#111" stroke-width="1.15" />
<line x1="202.07999999999998" y1="339.8" x2="206.07999999999998" y2="339.8" stroke="#111" stroke-width="1.4" />
<rect x="202.03" y="346.25" width="4.10" height="17.85" fill="#999999" />
<line x1="207.93" y1="358.5" x2="207.93" y2="357.8" stroke="#111" stroke-width="1.15" />
<line x1="205.93" y1="357.8" x2="209.93" y2="357.8" stroke="#111" stroke-width="1.4" />
<rect x="206.13" y="358.50" width="3.60" height="5.60" fill="#535353" />
<line x1="211.88" y1="359.5" x2="211.88" y2="357.8" stroke="#111" stroke-width="1.15" />
<line x1="209.88" y1="357.8" x2="213.88" y2="357.8" stroke="#111" stroke-width="1.4" />
<rect x="209.73" y="359.50" width="4.30" height="4.60" fill="#b3b3b3" />
<line x1="222.5" y1="348" x2="222.5" y2="341.55" stroke="#111" stroke-width="1.15" />
<line x1="220.5" y1="341.55" x2="224.5" y2="341.55" stroke="#111" stroke-width="1.4" />
<rect x="220.55" y="348.00" width="3.90" height="16.10" fill="#8a8a8a" />
<line x1="226.34999999999997" y1="324.5" x2="226.34999999999997" y2="311.55" stroke="#111" stroke-width="1.15" />
<line x1="224.34999999999997" y1="311.55" x2="228.34999999999997" y2="311.55" stroke="#111" stroke-width="1.4" />
<rect x="224.45" y="324.50" width="3.80" height="39.60" fill="#e7e7e7" />
<line x1="230.2" y1="308.75" x2="230.2" y2="298.3" stroke="#111" stroke-width="1.15" />
<line x1="228.2" y1="298.3" x2="232.2" y2="298.3" stroke="#111" stroke-width="1.4" />
<rect x="228.25" y="308.75" width="3.90" height="55.35" fill="#000000" />
<line x1="234.2" y1="297.5" x2="234.2" y2="281.8" stroke="#111" stroke-width="1.15" />
<line x1="232.2" y1="281.8" x2="236.2" y2="281.8" stroke="#111" stroke-width="1.4" />
<rect x="232.15" y="297.50" width="4.10" height="66.60" fill="#999999" />
<line x1="238.04999999999998" y1="312" x2="238.04999999999998" y2="297.8" stroke="#111" stroke-width="1.15" />
<line x1="236.04999999999998" y1="297.8" x2="240.04999999999998" y2="297.8" stroke="#111" stroke-width="1.4" />
<rect x="236.25" y="312.00" width="3.60" height="52.10" fill="#535353" />
<line x1="242.0" y1="303.75" x2="242.0" y2="289.8" stroke="#111" stroke-width="1.15" />
<line x1="240.0" y1="289.8" x2="244.0" y2="289.8" stroke="#111" stroke-width="1.4" />
<rect x="239.85" y="303.75" width="4.30" height="60.35" fill="#b3b3b3" />
<line x1="252.62" y1="351.75" x2="252.62" y2="345.8" stroke="#111" stroke-width="1.15" />
<line x1="250.62" y1="345.8" x2="254.62" y2="345.8" stroke="#111" stroke-width="1.4" />
<rect x="250.67" y="351.75" width="3.90" height="12.35" fill="#8a8a8a" />
<line x1="256.47" y1="342" x2="256.47" y2="334.8" stroke="#111" stroke-width="1.15" />
<line x1="254.47000000000003" y1="334.8" x2="258.47" y2="334.8" stroke="#111" stroke-width="1.4" />
<rect x="254.57" y="342.00" width="3.80" height="22.10" fill="#e7e7e7" />
<line x1="260.32" y1="316.25" x2="260.32" y2="312.8" stroke="#111" stroke-width="1.15" />
<line x1="258.32" y1="312.8" x2="262.32" y2="312.8" stroke="#111" stroke-width="1.4" />
<rect x="258.37" y="316.25" width="3.90" height="47.85" fill="#000000" />
<line x1="264.32" y1="328" x2="264.32" y2="315.3" stroke="#111" stroke-width="1.15" />
<line x1="262.32" y1="315.3" x2="266.32" y2="315.3" stroke="#111" stroke-width="1.4" />
<rect x="262.27" y="328.00" width="4.10" height="36.10" fill="#999999" />
<line x1="268.16999999999996" y1="298" x2="268.16999999999996" y2="286.55" stroke="#111" stroke-width="1.15" />
<line x1="266.16999999999996" y1="286.55" x2="270.16999999999996" y2="286.55" stroke="#111" stroke-width="1.4" />
<rect x="266.37" y="298.00" width="3.60" height="66.10" fill="#535353" />
<line x1="272.12" y1="303" x2="272.12" y2="282.8" stroke="#111" stroke-width="1.15" />
<line x1="270.12" y1="282.8" x2="274.12" y2="282.8" stroke="#111" stroke-width="1.4" />
<rect x="269.97" y="303.00" width="4.30" height="61.10" fill="#b3b3b3" />
<rect x="280.79" y="364.20" width="3.90" height="-0.10" fill="#8a8a8a" />
<rect x="284.69" y="364.00" width="3.80" height="0.10" fill="#e7e7e7" />
<line x1="290.43999999999994" y1="361.25" x2="290.43999999999994" y2="359.8" stroke="#111" stroke-width="1.15" />
<line x1="288.43999999999994" y1="359.8" x2="292.43999999999994" y2="359.8" stroke="#111" stroke-width="1.4" />
<rect x="288.49" y="361.25" width="3.90" height="2.85" fill="#000000" />
<rect x="292.39" y="364.00" width="4.10" height="0.10" fill="#999999" />
<line x1="298.28999999999996" y1="361.5" x2="298.28999999999996" y2="360.8" stroke="#111" stroke-width="1.15" />
<line x1="296.28999999999996" y1="360.8" x2="300.28999999999996" y2="360.8" stroke="#111" stroke-width="1.4" />
<rect x="296.49" y="361.50" width="3.60" height="2.60" fill="#535353" />
<line x1="302.24" y1="317.5" x2="302.24" y2="305.3" stroke="#111" stroke-width="1.15" />
<line x1="300.24" y1="305.3" x2="304.24" y2="305.3" stroke="#111" stroke-width="1.4" />
<rect x="300.09" y="317.50" width="4.30" height="46.60" fill="#b3b3b3" />
<rect x="310.91" y="364.00" width="3.90" height="0.10" fill="#8a8a8a" />
<line x1="316.71000000000004" y1="302" x2="316.71000000000004" y2="295.8" stroke="#111" stroke-width="1.15" />
<line x1="314.71000000000004" y1="295.8" x2="318.71000000000004" y2="295.8" stroke="#111" stroke-width="1.4" />
<rect x="314.81" y="302.00" width="3.80" height="62.10" fill="#e7e7e7" />
<line x1="320.56000000000006" y1="288.75" x2="320.56000000000006" y2="269.8" stroke="#111" stroke-width="1.15" />
<line x1="318.56000000000006" y1="269.8" x2="322.56000000000006" y2="269.8" stroke="#111" stroke-width="1.4" />
<rect x="318.61" y="288.75" width="3.90" height="75.35" fill="#000000" />
<line x1="324.56000000000006" y1="309.5" x2="324.56000000000006" y2="298.3" stroke="#111" stroke-width="1.15" />
<line x1="322.56000000000006" y1="298.3" x2="326.56000000000006" y2="298.3" stroke="#111" stroke-width="1.4" />
<rect x="322.51" y="309.50" width="4.10" height="54.60" fill="#999999" />
<line x1="328.41" y1="276.25" x2="328.41" y2="257.1" stroke="#111" stroke-width="1.15" />
<line x1="326.41" y1="257.1" x2="330.41" y2="257.1" stroke="#111" stroke-width="1.4" />
<rect x="326.61" y="276.25" width="3.60" height="87.85" fill="#535353" />
<line x1="332.36" y1="254.9" x2="332.36" y2="240.60000000000002" stroke="#111" stroke-width="1.15" />
<line x1="330.36" y1="240.60000000000002" x2="334.36" y2="240.60000000000002" stroke="#111" stroke-width="1.4" />
<rect x="330.21" y="254.90" width="4.30" height="109.20" fill="#b3b3b3" />
<rect x="341.03" y="364.20" width="3.90" height="-0.10" fill="#8a8a8a" />
<rect x="344.93" y="364.00" width="3.80" height="0.10" fill="#e7e7e7" />
<rect x="348.73" y="360.50" width="3.90" height="3.60" fill="#000000" />
<rect x="352.63" y="364.00" width="4.10" height="0.10" fill="#999999" />
<line x1="358.53" y1="339.25" x2="358.53" y2="336.55" stroke="#111" stroke-width="1.15" />
<line x1="356.53" y1="336.55" x2="360.53" y2="336.55" stroke="#111" stroke-width="1.4" />
<rect x="356.73" y="339.25" width="3.60" height="24.85" fill="#535353" />
<line x1="362.48" y1="359" x2="362.48" y2="358.3" stroke="#111" stroke-width="1.15" />
<line x1="360.48" y1="358.3" x2="364.48" y2="358.3" stroke="#111" stroke-width="1.4" />
<rect x="360.33" y="359.00" width="4.30" height="5.10" fill="#b3b3b3" />
<line x1="373.09999999999997" y1="363.6" x2="373.09999999999997" y2="363.2" stroke="#111" stroke-width="1.15" />
<line x1="371.09999999999997" y1="363.2" x2="375.09999999999997" y2="363.2" stroke="#111" stroke-width="1.4" />
<rect x="371.15" y="363.60" width="3.90" height="0.50" fill="#8a8a8a" />
<line x1="376.94999999999993" y1="363.4" x2="376.94999999999993" y2="363.0" stroke="#111" stroke-width="1.15" />
<line x1="374.94999999999993" y1="363.0" x2="378.94999999999993" y2="363.0" stroke="#111" stroke-width="1.4" />
<rect x="375.05" y="363.40" width="3.80" height="0.70" fill="#e7e7e7" />
<line x1="380.79999999999995" y1="328" x2="380.79999999999995" y2="319.05" stroke="#111" stroke-width="1.15" />
<line x1="378.79999999999995" y1="319.05" x2="382.79999999999995" y2="319.05" stroke="#111" stroke-width="1.4" />
<rect x="378.85" y="328.00" width="3.90" height="36.10" fill="#000000" />
<rect x="382.75" y="361.25" width="4.10" height="2.85" fill="#999999" />
<line x1="388.65" y1="360.5" x2="388.65" y2="358.8" stroke="#111" stroke-width="1.15" />
<line x1="386.65" y1="358.8" x2="390.65" y2="358.8" stroke="#111" stroke-width="1.4" />
<rect x="386.85" y="360.50" width="3.60" height="3.60" fill="#535353" />
<rect x="390.45" y="361.50" width="4.30" height="2.60" fill="#b3b3b3" />
<rect x="401.27" y="364.30" width="3.90" height="-0.20" fill="#8a8a8a" />
<rect x="405.17" y="364.30" width="3.80" height="-0.20" fill="#e7e7e7" />
<line x1="410.91999999999996" y1="332" x2="410.91999999999996" y2="324.8" stroke="#111" stroke-width="1.15" />
<line x1="408.91999999999996" y1="324.8" x2="412.91999999999996" y2="324.8" stroke="#111" stroke-width="1.4" />
<rect x="408.97" y="332.00" width="3.90" height="32.10" fill="#000000" />
<rect x="412.87" y="364.00" width="4.10" height="0.10" fill="#999999" />
<rect x="416.97" y="360.50" width="3.60" height="3.60" fill="#535353" />
<rect x="420.57" y="360.00" width="4.30" height="4.10" fill="#b3b3b3" />
<rect x="431.39" y="364.20" width="3.90" height="-0.10" fill="#8a8a8a" />
<line x1="437.18999999999994" y1="363.3" x2="437.18999999999994" y2="362.8" stroke="#111" stroke-width="1.15" />
<line x1="435.18999999999994" y1="362.8" x2="439.18999999999994" y2="362.8" stroke="#111" stroke-width="1.4" />
<rect x="435.29" y="363.30" width="3.80" height="0.80" fill="#e7e7e7" />
<line x1="441.03999999999996" y1="323" x2="441.03999999999996" y2="317.8" stroke="#111" stroke-width="1.15" />
<line x1="439.03999999999996" y1="317.8" x2="443.03999999999996" y2="317.8" stroke="#111" stroke-width="1.4" />
<rect x="439.09" y="323.00" width="3.90" height="41.10" fill="#000000" />
<rect x="442.99" y="361.00" width="4.10" height="3.10" fill="#999999" />
<line x1="448.89" y1="357" x2="448.89" y2="354.8" stroke="#111" stroke-width="1.15" />
<line x1="446.89" y1="354.8" x2="450.89" y2="354.8" stroke="#111" stroke-width="1.4" />
<rect x="447.09" y="357.00" width="3.60" height="7.10" fill="#535353" />
<line x1="452.84000000000003" y1="337.5" x2="452.84000000000003" y2="334.8" stroke="#111" stroke-width="1.15" />
<line x1="450.84000000000003" y1="334.8" x2="454.84000000000003" y2="334.8" stroke="#111" stroke-width="1.4" />
<rect x="450.69" y="337.50" width="4.30" height="26.60" fill="#b3b3b3" />
<rect x="82.40" y="301.00" width="3.10" height="9.60" fill="#eeeeee" />
<path d="M78.2,281.8 L78.2,277.4 L95.6,277.4 L95.6,281.8" fill="none" stroke="#969696" stroke-width="1.2"/>
<path d="M83.80,268.25 L83.80,273.75 M81.35,269.75 L86.25,272.25 M86.25,269.75 L81.35,272.25 " stroke="#111" stroke-width="1.15" stroke-linecap="round" fill="none"/>
<circle cx="83.8" cy="271" r="1.0" fill="#111"/>
<path d="M112.00,318.25 L112.00,323.75 M109.55,319.75 L114.45,322.25 M114.45,319.75 L109.55,322.25 " stroke="#111" stroke-width="1.15" stroke-linecap="round" fill="none"/>
<circle cx="112.0" cy="321.0" r="1.0" fill="#111"/>
<path d="M117.90,318.25 L117.90,323.75 M115.45,319.75 L120.35,322.25 M120.35,319.75 L115.45,322.25 " stroke="#111" stroke-width="1.15" stroke-linecap="round" fill="none"/>
<circle cx="117.9" cy="321.0" r="1.0" fill="#111"/>
<path d="M139.5,277 L139.5,271.7 L156.5,271.7 L156.5,277" fill="none" stroke="#969696" stroke-width="1.2"/>
<path d="M150.30,262.25 L150.30,267.75 M147.85,263.75 L152.75,266.25 M152.75,263.75 L147.85,266.25 " stroke="#111" stroke-width="1.15" stroke-linecap="round" fill="none"/>
<circle cx="150.3" cy="265" r="1.0" fill="#111"/>
<path d="M161.5,219.5 L161.5,216.5 L184.6,216.5 L184.6,219.5" fill="none" stroke="#969696" stroke-width="1.2"/>
<path d="M172.80,206.65 L172.80,212.15 M170.35,208.15 L175.25,210.65 M175.25,208.15 L170.35,210.65 " stroke="#111" stroke-width="1.15" stroke-linecap="round" fill="none"/>
<circle cx="172.8" cy="209.4" r="1.0" fill="#111"/>
<path d="M228.3,280.5 L228.3,277.4 L245.5,277.4 L245.5,280.5" fill="none" stroke="#969696" stroke-width="1.2"/>
<path d="M233.80,268.55 L233.80,274.05 M231.35,270.05 L236.25,272.55 M236.25,270.05 L231.35,272.55 " stroke="#111" stroke-width="1.15" stroke-linecap="round" fill="none"/>
<circle cx="233.8" cy="271.3" r="1.0" fill="#111"/>
<path d="M256.3,280.5 L256.3,277.4 L273,277.4 L273,280.5" fill="none" stroke="#969696" stroke-width="1.2"/>
<path d="M261.50,268.55 L261.50,274.05 M259.05,270.05 L263.95,272.55 M263.95,270.05 L259.05,272.55 " stroke="#111" stroke-width="1.15" stroke-linecap="round" fill="none"/>
<circle cx="261.5" cy="271.3" r="1.0" fill="#111"/>
<path d="M301.00,295.25 L301.00,300.75 M298.55,296.75 L303.45,299.25 M303.45,296.75 L298.55,299.25 " stroke="#111" stroke-width="1.15" stroke-linecap="round" fill="none"/>
<circle cx="301.0" cy="298.0" r="1.0" fill="#111"/>
<path d="M311.8,236.3 L311.8,233.4 L334.5,233.4 L334.5,236.3" fill="none" stroke="#969696" stroke-width="1.2"/>
<path d="M322.50,223.55 L322.50,229.05 M320.05,225.05 L324.95,227.55 M324.95,225.05 L320.05,227.55 " stroke="#111" stroke-width="1.15" stroke-linecap="round" fill="none"/>
<circle cx="322.5" cy="226.3" r="1.0" fill="#111"/>
<path d="M356.30,329.25 L356.30,334.75 M353.85,330.75 L358.75,333.25 M358.75,330.75 L353.85,333.25 " stroke="#111" stroke-width="1.15" stroke-linecap="round" fill="none"/>
<circle cx="356.3" cy="332.0" r="1.0" fill="#111"/>
<path d="M378.00,306.75 L378.00,312.25 M375.55,308.25 L380.45,310.75 M380.45,308.25 L375.55,310.75 " stroke="#111" stroke-width="1.15" stroke-linecap="round" fill="none"/>
<circle cx="378.0" cy="309.5" r="1.0" fill="#111"/>
<path d="M405.50,313.05 L405.50,318.55 M403.05,314.55 L407.95,317.05 M407.95,314.55 L403.05,317.05 " stroke="#111" stroke-width="1.15" stroke-linecap="round" fill="none"/>
<circle cx="405.5" cy="315.8" r="1.0" fill="#111"/>
<path d="M439.30,307.25 L439.30,312.75 M436.85,308.75 L441.75,311.25 M441.75,308.75 L436.85,311.25 " stroke="#111" stroke-width="1.15" stroke-linecap="round" fill="none"/>
<circle cx="439.3" cy="310.0" r="1.0" fill="#111"/>
<path d="M450.30,324.75 L450.30,330.25 M447.85,326.25 L452.75,328.75 M452.75,326.25 L447.85,328.75 " stroke="#111" stroke-width="1.15" stroke-linecap="round" fill="none"/>
<circle cx="450.3" cy="327.5" r="1.0" fill="#111"/>
<rect x="128.50" y="394.30" width="5.60" height="5.60" fill="#8a8a8a" />
<text x="135.0" y="400.0" font-size="9.0" font-weight="normal" font-style="normal" text-anchor="start" fill="#222" textLength="11.5" lengthAdjust="spacingAndGlyphs" stroke="#222" stroke-width="0.15">R.C</text>
<rect x="157.00" y="394.30" width="5.60" height="5.60" fill="#dcdcdc" />
<text x="164.5" y="400.0" font-size="9.0" font-weight="normal" font-style="normal" text-anchor="start" fill="#222" textLength="14.0" lengthAdjust="spacingAndGlyphs" stroke="#222" stroke-width="0.15">PBS</text>
<rect x="188.50" y="394.30" width="5.60" height="5.60" fill="#000000" />
<text x="195.5" y="400.0" font-size="9.0" font-weight="normal" font-style="normal" text-anchor="start" fill="#222" textLength="29.5" lengthAdjust="spacingAndGlyphs" stroke="#222" stroke-width="0.15">BCG D-1</text>
<rect x="235.00" y="394.30" width="5.60" height="5.60" fill="#999999" />
<text x="243.0" y="400.0" font-size="9.0" font-weight="normal" font-style="normal" text-anchor="start" fill="#222" textLength="35.0" lengthAdjust="spacingAndGlyphs" stroke="#222" stroke-width="0.15">BCG D-10</text>
<rect x="288.00" y="394.30" width="5.60" height="5.60" fill="#535353" />
<text x="295.5" y="400.0" font-size="9.0" font-weight="normal" font-style="normal" text-anchor="start" fill="#222" textLength="35.0" lengthAdjust="spacingAndGlyphs" stroke="#222" stroke-width="0.15">BCG D-20</text>
<rect x="340.20" y="394.30" width="5.60" height="5.60" fill="#b3b3b3" />
<text x="348.0" y="400.0" font-size="9.0" font-weight="normal" font-style="normal" text-anchor="start" fill="#222" textLength="35.0" lengthAdjust="spacingAndGlyphs" stroke="#222" stroke-width="0.15">BCG D-60</text>
<line x1="155.8" y1="409.5" x2="239.5" y2="409.5" stroke="#000" stroke-width="1.4" />
<line x1="306.3" y1="409.5" x2="383.6" y2="409.5" stroke="#000" stroke-width="1.4" />
<line x1="155.8" y1="404.8" x2="155.8" y2="414.2" stroke="#000" stroke-width="1.4" />
<line x1="383.6" y1="404.8" x2="383.6" y2="416.5" stroke="#000" stroke-width="1.4" />
<text x="247.0" y="414.0" font-size="12.5" font-weight="normal" font-style="normal" text-anchor="start" fill="#111" textLength="51.0" lengthAdjust="spacingAndGlyphs" >exosomes</text>
</svg>
</body></html>
